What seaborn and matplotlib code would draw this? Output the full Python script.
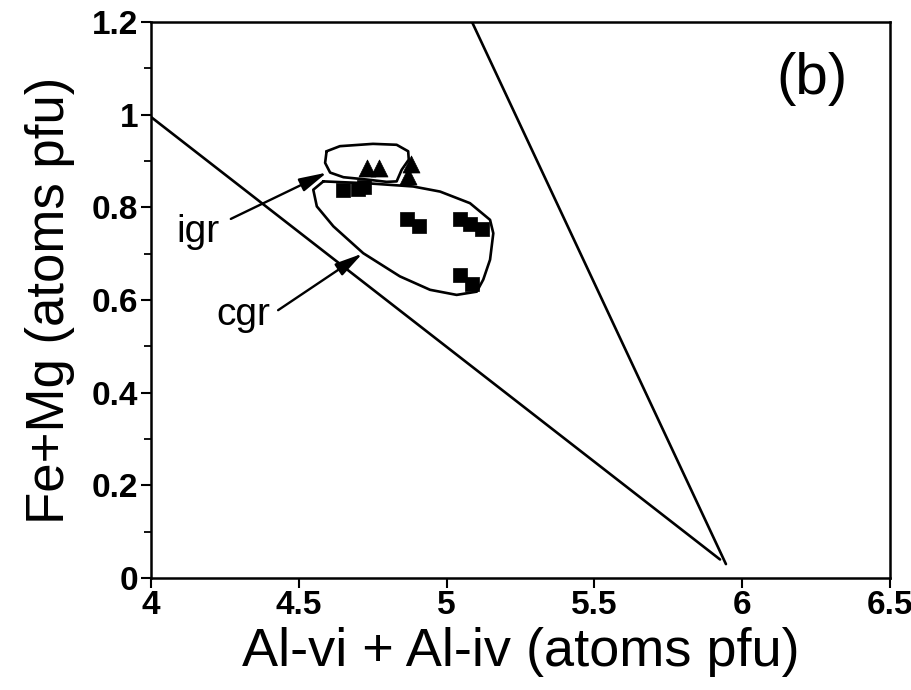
import matplotlib
matplotlib.use("Agg")
import matplotlib.pyplot as plt
import seaborn as sns
import pandas as pd
from matplotlib.ticker import MultipleLocator

# ---- data ----
sq_x = [4.65, 4.70, 4.72, 4.865, 4.905, 5.045, 5.08, 5.12, 5.045, 5.085]
sq_y = [0.838, 0.840, 0.843, 0.775, 0.760, 0.775, 0.763, 0.753, 0.655, 0.635]
tri_x = [4.73, 4.77, 4.87, 4.878]
tri_y = [0.885, 0.884, 0.867, 0.893]

line1_x = [4.0, 5.925]
line1_y = [0.995, 0.040]
line2_x = [5.086, 5.945]
line2_y = [1.2, 0.030]

igr_x = [4.594, 4.639, 4.751, 4.831, 4.870, 4.872, 4.848, 4.831, 4.797, 4.730, 4.651, 4.606, 4.589, 4.594]
igr_y = [0.921, 0.932, 0.937, 0.935, 0.921, 0.903, 0.881, 0.856, 0.855, 0.860, 0.865, 0.875, 0.896, 0.921]

cgr_x = [4.583, 4.730, 4.887, 4.978, 5.079, 5.147, 5.158, 5.147, 5.124, 5.102, 5.034, 4.944,
         4.842, 4.718, 4.617, 4.561, 4.549, 4.583]
cgr_y = [0.856, 0.852, 0.845, 0.834, 0.809, 0.773, 0.744, 0.687, 0.644, 0.618, 0.611, 0.622,
         0.651, 0.701, 0.759, 0.802, 0.838, 0.856]

x_ticks = [4, 4.5, 5, 5.5, 6, 6.5]
x_ticklabels = ["4", "4.5", "5", "5.5", "6", "6.5"]
y_ticks = [0, 0.2, 0.4, 0.6, 0.8, 1.0, 1.2]
y_ticklabels = ["0", "0.2", "0.4", "0.6", "0.8", "1", "1.2"]

# ---- plot ----
sns.set_theme(style="ticks")
plt.rcParams["font.family"] = ["Liberation Sans", "DejaVu Sans"]
plt.rcParams["text.color"] = "black"
plt.rcParams["axes.labelcolor"] = "black"

fig = plt.figure(figsize=(9.12, 6.90), dpi=100)
ax = fig.add_axes([151/912, 1 - 578/690, (890 - 151)/912, (578 - 22)/690])

lw = 1.9
for xs, ys in [(line1_x, line1_y), (line2_x, line2_y), (igr_x, igr_y), (cgr_x, cgr_y)]:
    sns.lineplot(x=xs, y=ys, ax=ax, color="black", lw=lw, sort=False, estimator=None)

sns.scatterplot(x=sq_x, y=sq_y, ax=ax, marker="s", s=95, color="black", edgecolor="black", linewidth=0.5, zorder=5)
sns.scatterplot(x=tri_x, y=tri_y, ax=ax, marker="^", s=150, color="black", edgecolor="black", linewidth=0.5, zorder=5)

arrow_kw = dict(arrowstyle="-|>,head_length=1.4,head_width=0.35", color="black", lw=1.7, shrinkA=0, shrinkB=0)
ax.annotate("", xy=(4.595, 0.875), xytext=(4.27, 0.775), arrowprops=arrow_kw)
ax.annotate("", xy=(4.715, 0.700), xytext=(4.43, 0.578), arrowprops=arrow_kw)

ax.text(4.159, 0.747, "igr", fontsize=28, ha="center", va="center", color="black")
ax.text(4.311, 0.568, "cgr", fontsize=28, ha="center", va="center", color="black")
ax.text(6.236, 1.076, "(b)", fontsize=42, ha="center", va="center", color="black")

ax.set_xlim(4, 6.5)
ax.set_ylim(0, 1.2)
ax.set_xticks(x_ticks)
ax.set_xticklabels(x_ticklabels)
ax.set_yticks(y_ticks)
ax.set_yticklabels(y_ticklabels)
ax.yaxis.set_minor_locator(MultipleLocator(0.1))

for sp in ax.spines.values():
    sp.set_visible(True)
    sp.set_linewidth(1.8)
    sp.set_color("black")

ax.tick_params(axis="both", which="major", direction="out", length=7, width=1.5,
               labelsize=24, colors="black", labelcolor="black", pad=2)
ax.tick_params(axis="y", which="minor", direction="out", length=5, width=1.3, colors="black")
for t in ax.get_xticklabels() + ax.get_yticklabels():
    t.set_fontweight("bold")

ax.set_xlabel("Al-vi + Al-iv (atoms pfu)", fontsize=39, labelpad=4, color="black")
ax.set_ylabel("Fe+Mg (atoms pfu)", fontsize=38, labelpad=12, color="black")
ax.set_facecolor("white")
fig.patch.set_facecolor("white")

fig.savefig("out.png", dpi=100)
